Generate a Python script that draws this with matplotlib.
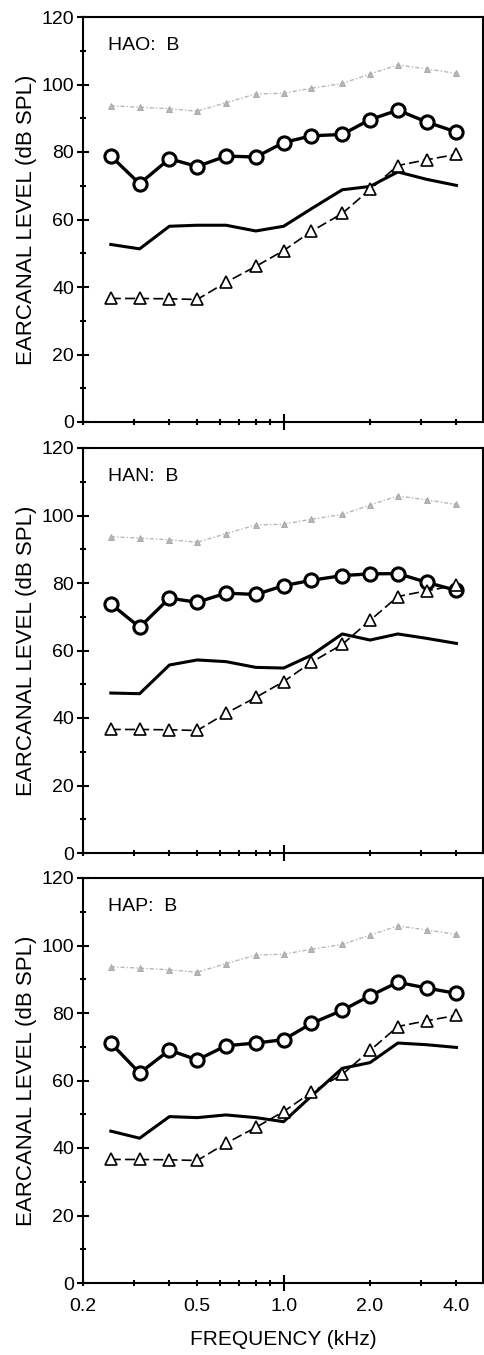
"""
Earcanal level vs frequency, three subjects (HAO, HAN, HAP), condition B.
"""
import matplotlib
matplotlib.use("Agg")
import matplotlib.pyplot as plt
from matplotlib.ticker import FixedLocator, FixedFormatter, NullFormatter

plt.rcParams["font.family"] = ["Liberation Sans", "DejaVu Sans"]

# ---------------------------------------------------------------------------
# Data
# ---------------------------------------------------------------------------
freq_khz = [0.25, 0.315, 0.4, 0.5, 0.63, 0.8, 1.0, 1.25, 1.6, 2.0, 2.5, 3.15, 4.0]

# gray dotted curve (same in every panel)
upper_ref = [93.7, 93.3, 92.8, 92.1, 94.6, 97.2, 97.4, 98.9, 100.3, 103.1, 105.8, 104.6, 103.3]
# open-triangle dashed curve (same in every panel)
lower_ref = [36.6, 36.6, 36.5, 36.3, 41.4, 46.1, 50.8, 56.5, 61.8, 68.9, 76.0, 77.7, 79.3]

panel_names = ["HAO:  B", "HAN:  B", "HAP:  B"]

circles_hao = [78.8, 70.6, 78.0, 75.7, 78.8, 78.5, 82.8, 84.8, 85.2, 89.6, 92.4, 88.9, 85.9]
solid_hao = [52.6, 51.3, 58.0, 58.3, 58.3, 56.6, 58.0, 63.2, 68.8, 69.8, 74.1, 71.9, 70.1]

circles_han = [73.8, 66.9, 75.5, 74.3, 77.0, 76.6, 79.2, 80.8, 82.2, 82.7, 82.8, 80.2, 77.8]
solid_han = [47.4, 47.2, 55.7, 57.2, 56.7, 55.0, 54.8, 58.6, 64.9, 63.1, 64.9, 63.6, 62.1]

circles_hap = [71.1, 62.2, 69.0, 66.1, 70.3, 71.1, 72.1, 76.9, 80.8, 85.1, 89.1, 87.4, 85.8]
solid_hap = [45.0, 42.9, 49.3, 49.0, 49.8, 49.0, 47.8, 55.4, 63.6, 65.3, 71.1, 70.6, 69.8]

circles = [circles_hao, circles_han, circles_hap]
solids = [solid_hao, solid_han, solid_hap]

yticks_major = [0, 20, 40, 60, 80, 100, 120]
yticks_minor = [10, 30, 50, 70, 90, 110]
xticks_minor = [0.2, 0.3, 0.4, 0.5, 0.6, 0.7, 0.8, 0.9, 2.0, 3.0, 4.0]
xticklabels_minor = ["0.2", "", "", "0.5", "", "", "", "", "2.0", "", "4.0"]

# ---------------------------------------------------------------------------
# Figure
# ---------------------------------------------------------------------------
W, H = 485, 1355
fig = plt.figure(figsize=(W / 100, H / 100), dpi=100)

# axes boxes in pixels: (top, bottom)
boxes = [(17, 422), (448, 853), (878, 1283)]
left_px, right_px = 83, 483

for i, (top, bottom) in enumerate(boxes):
    ax = fig.add_axes([left_px / W, 1 - bottom / H,
                       (right_px - left_px) / W, (bottom - top) / H])

    ax.plot(freq_khz, upper_ref, color="#b8b8b8", lw=1.0, dashes=(3, 1.5, 1, 1.5),
            marker="^", ms=5, mfc="#b8b8b8", mec="#a4a4a4", mew=0.6)
    ax.plot(freq_khz, circles[i], color="black", lw=2.4, marker="o", ms=9.5,
            mfc="white", mec="black", mew=2.2)
    ax.plot(freq_khz, solids[i], color="black", lw=2.2)
    ax.plot(freq_khz, lower_ref, color="black", lw=1.2, dashes=(6, 2.5),
            marker="^", ms=8, mfc="white", mec="black", mew=1.2)

    ax.set_xscale("log")
    ax.set_xlim(0.2, 4.95)
    ax.set_ylim(0, 120)

    ax.yaxis.set_major_locator(FixedLocator(yticks_major))
    ax.yaxis.set_minor_locator(FixedLocator(yticks_minor))
    ax.tick_params(axis="y", which="major", direction="inout", length=9, width=1.5,
                   labelsize=14, pad=2)
    ax.tick_params(axis="y", which="minor", direction="inout", length=5, width=1.5)

    ax.xaxis.set_major_locator(FixedLocator([1.0]))
    ax.xaxis.set_minor_locator(FixedLocator(xticks_minor))
    ax.tick_params(axis="x", which="major", direction="inout", length=11, width=1.5,
                   labelsize=14, pad=5)
    ax.tick_params(axis="x", which="minor", direction="inout", length=5, width=1.5,
                   labelsize=14, pad=8)
    if i == 2:
        ax.xaxis.set_major_formatter(FixedFormatter(["1.0"]))
        ax.xaxis.set_minor_formatter(FixedFormatter(xticklabels_minor))
        ax.set_xlabel("FREQUENCY (kHz)", fontsize=15, labelpad=11)
    else:
        ax.xaxis.set_major_formatter(NullFormatter())
        ax.xaxis.set_minor_formatter(NullFormatter())

    for s in ax.spines.values():
        s.set_linewidth(1.5)

    ax.set_ylabel("EARCANAL LEVEL (dB SPL)", fontsize=16, labelpad=3)
    ax.text(0.062, 0.93, panel_names[i], transform=ax.transAxes,
            fontsize=14, ha="left", va="center")

fig.savefig("out.png", dpi=100)
